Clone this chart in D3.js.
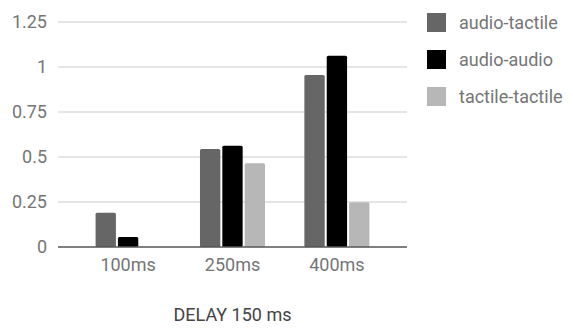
<!DOCTYPE html>
<html><head><meta charset="utf-8">
<script src="https://cdn.jsdelivr.net/npm/d3@7"></script>
<style>body{margin:0;background:#fff}svg{display:block}text{font-family:Roboto,sans-serif}</style>
</head><body><svg id="c" width="573" height="331"></svg>
<script>
const categories = ["100ms", "250ms", "400ms"];
const seriesNames = ["audio-tactile", "audio-audio", "tactile-tactile"];
const audioTactile = [0.19, 0.545, 0.955];
const audioAudio = [0.055, 0.563, 1.063];
const tactileTactile = [0, 0.465, 0.248];
const yTicks = [0, 0.25, 0.5, 0.75, 1, 1.25];
const colors = ["#666666", "#000000", "#b7b7b7"];
const title = "DELAY 150 ms";

const seriesValues = [audioTactile, audioAudio, tactileTactile];
const svg = d3.select("#c");
const mLeft = 58, mRight = 407, mTop = 22, mBottom = 247;
const y = d3.scaleLinear().domain([0, 1.25]).range([mBottom, mTop]);
const x0 = d3.scaleBand().domain(categories).range([mLeft, mRight]).paddingInner(0.377).paddingOuter(0.36);
const x1 = d3.scaleBand().domain(seriesNames).range([0, x0.bandwidth()]).paddingInner(0.09);

// gridlines
svg.append("g").selectAll("line").data(yTicks.filter(d => d > 0)).join("line")
  .attr("x1", mLeft).attr("x2", mRight)
  .attr("y1", d => y(d)).attr("y2", d => y(d))
  .attr("stroke", "#dcdcdc").attr("stroke-width", 1.5);

// y axis labels
const yAxis = d3.axisLeft(y).tickValues(yTicks).tickSize(0).tickPadding(11).tickFormat(d3.format("~g"));
const ya = svg.append("g").attr("transform", `translate(${mLeft},0)`).call(yAxis);
ya.select(".domain").remove();
ya.selectAll("text").attr("fill", "#757575").style("font-size", "18px").style("font-family", "Roboto");

// bars
const groups = svg.append("g").selectAll("g").data(categories).join("g")
  .attr("transform", d => `translate(${x0(d)},0)`);
groups.selectAll("rect").data((c, i) => seriesNames.map((s, j) => ({s, v: seriesValues[j][i], j})))
  .join("rect")
  .attr("x", d => x1(d.s)).attr("width", x1.bandwidth())
  .attr("y", d => y(d.v)).attr("height", d => y(0) - y(d.v))
  .attr("rx", 1.5)
  .attr("fill", d => colors[d.j]);

// baseline
svg.append("line").attr("x1", mLeft).attr("x2", mRight).attr("y1", y(0)).attr("y2", y(0))
  .attr("stroke", "#555").attr("stroke-width", 1.5);

// x axis labels
const xAxis = d3.axisBottom(x0).tickSize(0).tickPadding(11);
const xa = svg.append("g").attr("transform", `translate(0,${mBottom})`).call(xAxis);
xa.select(".domain").remove();
xa.selectAll("text").attr("fill", "#757575").style("font-size", "18px").style("font-family", "Roboto");

// title
svg.append("text").attr("x", (mLeft + mRight) / 2).attr("y", 321).attr("text-anchor", "middle")
  .attr("fill", "#444").style("font-size", "18px").text(title);

// legend
const lg = svg.append("g").selectAll("g").data(seriesNames).join("g")
  .attr("transform", (d, i) => `translate(427,${13 + i * 37})`);
lg.append("rect").attr("width", 19).attr("height", 19).attr("fill", (d, i) => colors[i]);
lg.append("text").attr("x", 32).attr("y", 10).attr("dy", "0.35em")
  .attr("fill", "#757575").style("font-size", "18px").text(d => d);
</script></body></html>
